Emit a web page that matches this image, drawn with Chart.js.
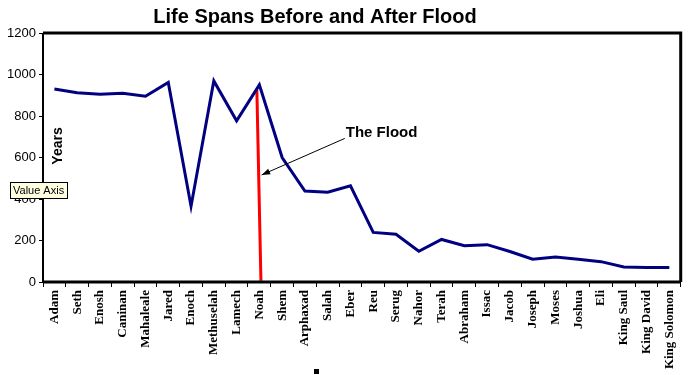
<!DOCTYPE html>
<html><head><meta charset="utf-8">
<script src="https://cdn.jsdelivr.net/npm/chart.js@4"></script>
<style>html,body{margin:0;padding:0;background:#fff}#wrap{width:688px;height:375px}</style>
</head><body><div id="wrap"><canvas id="c" width="688" height="375"></canvas></div>
<script>
const categories = ["Adam","Seth","Enosh","Caninan","Mahaleale","Jared","Enoch","Methuselah","Lamech","Noah","Shem","Arphaxad","Salah","Eber","Reu","Serug","Nahor","Terah","Abraham","Issac","Jacob","Joseph","Moses","Joshua","Eli","King Saul","King David","King Solomon"];
const lifeSpans = [930,912,905,910,895,962,365,969,777,950,600,438,433,464,239,230,148,205,175,180,147,110,120,110,98,72,70,70];
const floodLineX = [8.89, 9.07];
const floodLineY = [925, 0];
const arrowFrom = [12.75, 692];
const arrowTo = [9.1, 516];
const yTicks = [0,200,400,600,800,1000,1200];

const deco = {
  id:'deco',
  afterDraw(chart){
    const ctx = chart.ctx, a = chart.chartArea;
    const xs = chart.scales.xf, ys = chart.scales.y;
    ctx.save();
    ctx.strokeStyle = '#000';
    ctx.lineWidth = 3;
    ctx.beginPath();
    ctx.moveTo(a.left, a.top); ctx.lineTo(a.right, a.top); ctx.lineTo(a.right, a.bottom);
    ctx.stroke();
    ctx.beginPath(); ctx.moveTo(a.left, a.bottom); ctx.lineTo(a.right, a.bottom); ctx.stroke();
    ctx.lineWidth = 2;
    ctx.beginPath(); ctx.moveTo(a.left, a.top); ctx.lineTo(a.left, a.bottom+1); ctx.stroke();
    ctx.fillStyle = '#000';
    ctx.font = 'bold 20px "Liberation Sans", Arial, sans-serif';
    ctx.textAlign = 'center'; ctx.textBaseline = 'middle';
    ctx.fillText('Life Spans Before and After Flood', 315, 17);
    ctx.save();
    ctx.translate(58, 146); ctx.rotate(-Math.PI/2);
    ctx.font = 'bold 14px "Liberation Sans", Arial, sans-serif';
    ctx.fillText('Years', 0, 0);
    ctx.restore();
    const x1 = xs.getPixelForValue(arrowFrom[0]), y1 = ys.getPixelForValue(arrowFrom[1]);
    const x2 = xs.getPixelForValue(arrowTo[0]), y2 = ys.getPixelForValue(arrowTo[1]);
    ctx.lineWidth = 1; ctx.strokeStyle = '#000';
    ctx.beginPath(); ctx.moveTo(x1, y1); ctx.lineTo(x2, y2); ctx.stroke();
    const ang = Math.atan2(y2-y1, x2-x1);
    ctx.beginPath();
    ctx.moveTo(x2, y2);
    ctx.lineTo(x2 - 9*Math.cos(ang-0.35), y2 - 9*Math.sin(ang-0.35));
    ctx.lineTo(x2 - 9*Math.cos(ang+0.35), y2 - 9*Math.sin(ang+0.35));
    ctx.closePath(); ctx.fill();
    ctx.font = 'bold 15px "Liberation Sans", Arial, sans-serif';
    ctx.textAlign = 'left';
    ctx.fillText('The Flood', x1+1, y1-6);
    ctx.fillStyle = '#ffffe1';
    ctx.fillRect(10.5, 182.5, 57, 16);
    ctx.strokeRect(10.5, 182.5, 57, 16);
    ctx.fillStyle = '#000';
    ctx.font = '11px "Liberation Sans", Tahoma, sans-serif';
    ctx.fillText('Value Axis', 13, 191);
    ctx.fillRect(314, 369, 5, 5);
    ctx.restore();
  }
};

new Chart(document.getElementById('c'), {
  data: {
    labels: categories,
    datasets: [
      {type:'line', data: lifeSpans, borderColor:'#000080', borderWidth:3, pointRadius:0, tension:0, fill:false, xAxisID:'x', yAxisID:'y'},
      {type:'line', data: floodLineX.map((x,i)=>({x:x, y:floodLineY[i]})), borderColor:'#ff0000', borderWidth:3,
       pointRadius:[0,2], pointStyle:'rect', pointBackgroundColor:'#00ffff', pointBorderWidth:0, xAxisID:'xf', yAxisID:'y'}
    ]
  },
  options: {
    responsive:false, animation:false,
    layout:{padding:{top:33, right:4, left:0, bottom:0}},
    plugins:{legend:{display:false}, tooltip:{enabled:false}, title:{display:false}},
    scales:{
      x:{type:'category', offset:true,
         grid:{display:true, drawOnChartArea:false, offset:true, tickLength:5, color:'#000', lineWidth:1},
         border:{display:false},
         ticks:{minRotation:90, maxRotation:90, autoSkip:false, padding:3, color:'#000',
                font:{family:'"Liberation Serif", "Times New Roman", serif', size:13, weight:'bold'}},
         afterFit(s){ s.height = 93; }},
      xf:{type:'linear', min:-0.5, max:27.5, display:false},
      y:{min:0, max:1200,
         afterBuildTicks(s){ s.ticks = yTicks.map(v=>({value:v})); },
         grid:{display:true, drawOnChartArea:false, tickLength:4, color:'#000'},
         border:{display:false},
         ticks:{padding:3, color:'#000', callback:(v)=>String(v), font:{family:'"Liberation Sans", Arial, sans-serif', size:13}},
         afterFit(s){ s.width = 43; }}
    }
  },
  plugins:[deco]
});
</script></body></html>
